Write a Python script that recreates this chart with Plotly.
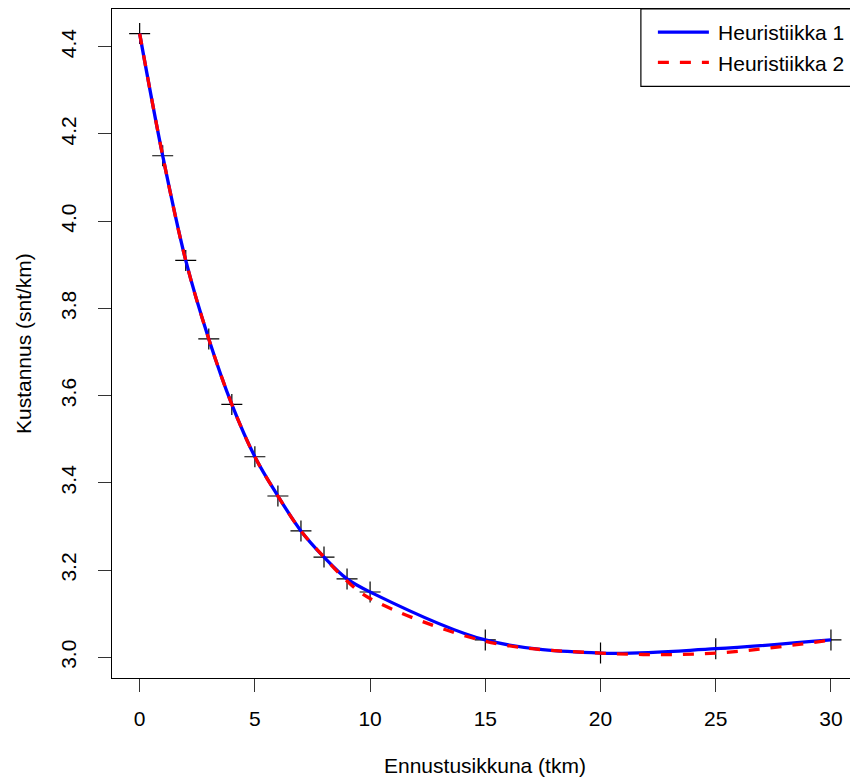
import plotly.graph_objects as go

# Data
ennustusikkuna = [0, 1, 2, 3, 4, 5, 6, 7, 8, 9, 10, 15, 20, 25, 30]
heuristiikka1 = [4.43, 4.15, 3.91, 3.73, 3.58, 3.46, 3.37, 3.29, 3.23, 3.18, 3.15, 3.04, 3.01, 3.02, 3.04]
heuristiikka2 = [4.43, 4.15, 3.91, 3.73, 3.58, 3.46, 3.37, 3.29, 3.23, 3.175, 3.135, 3.037, 3.01, 3.01, 3.04]
x_ticks = [0, 5, 10, 15, 20, 25, 30]
y_ticks = [3.0, 3.2, 3.4, 3.6, 3.8, 4.0, 4.2, 4.4]

W, H = 850, 783
FONT = "Liberation Sans, Arial, Helvetica, sans-serif"
FS = 21

# plot box in pixels (R-style box, right side extends past the canvas)
box_l, box_t, box_b = 112.4, 9.0, 678.3
box_r_full = 858.6
xr_full = [-1.2, 31.2]
px_per_x = (box_r_full - box_l) / (xr_full[1] - xr_full[0])
x_end = xr_full[0] + (W - box_l) / px_per_x
plot_w = W - box_l
plot_h = box_b - box_t

def px_x(p):
    return (p - box_l) / plot_w

def px_y(p):
    return (box_b - p) / plot_h

fig = go.Figure()

fig.add_trace(go.Scatter(
    x=ennustusikkuna, y=heuristiikka1, mode="markers", showlegend=False,
    marker=dict(symbol="cross-thin", size=15, color="black",
                line=dict(color="#000000", width=1.2)),
    hoverinfo="skip"))

fig.add_trace(go.Scatter(
    x=ennustusikkuna, y=heuristiikka1, mode="lines", name="\u2009Heuristiikka 1",
    line=dict(color="#0000FF", width=3.3, shape="spline", smoothing=1)))

fig.add_trace(go.Scatter(
    x=ennustusikkuna, y=heuristiikka2, mode="lines", name="\u2009Heuristiikka 2",
    line=dict(color="#FF0000", width=3.3, shape="spline", smoothing=1, dash="11px,11px")))

# legend frame (extends beyond canvas like the reference)
fig.add_shape(type="rect", xref="paper", yref="paper",
              x0=px_x(641), x1=px_x(box_r_full), y0=px_y(86.5), y1=1.0,
              line=dict(color="black", width=1.2), fillcolor="white", layer="below")

fig.add_annotation(text="Ennustusikkuna (tkm)", xref="paper", yref="paper",
                   x=px_x((box_l + box_r_full) / 2), y=px_y(766), xanchor="center", yanchor="middle",
                   showarrow=False, font=dict(family=FONT, size=FS, color="black"))
fig.add_annotation(text="Kustannus (snt/km)", xref="paper", yref="paper",
                   x=px_x(24), y=px_y((box_t + box_b) / 2), xanchor="center", yanchor="middle",
                   textangle=-90, showarrow=False, font=dict(family=FONT, size=FS, color="black"))

fig.update_layout(
    width=W, height=H,
    margin=dict(l=box_l, r=0, t=box_t, b=H - box_b, pad=0),
    paper_bgcolor="white", plot_bgcolor="rgba(0,0,0,0)",
    font=dict(family=FONT, size=FS, color="black"),
    showlegend=True,
    legend=dict(x=px_x(653), y=px_y(12), xanchor="left", yanchor="top",
                bgcolor="rgba(0,0,0,0)", borderwidth=0, itemwidth=51,
                font=dict(family=FONT, size=FS, color="black"), tracegroupgap=0),
    xaxis=dict(range=[xr_full[0], x_end], tickvals=x_ticks, ticktext=[str(v) for v in x_ticks],
               showgrid=False, zeroline=False, showline=True, mirror=True,
               linecolor="black", linewidth=1.2, ticks="outside", ticklen=13,
               tickwidth=1.2, tickcolor="#333333", ticklabelstandoff=9,
               tickfont=dict(family=FONT, size=FS, color="black")),
    yaxis=dict(range=[2.9528, 4.4864], tickvals=y_ticks, ticktext=[f"{v:.1f}" for v in y_ticks],
               showgrid=False, zeroline=False, showline=True, mirror=False,
               linecolor="black", linewidth=1.2, ticks="outside", ticklen=13,
               tickwidth=1.2, tickcolor="#333333", tickangle=-90, ticklabelstandoff=14,
               tickfont=dict(family=FONT, size=FS, color="black")),
)

fig.write_html("out.html")
